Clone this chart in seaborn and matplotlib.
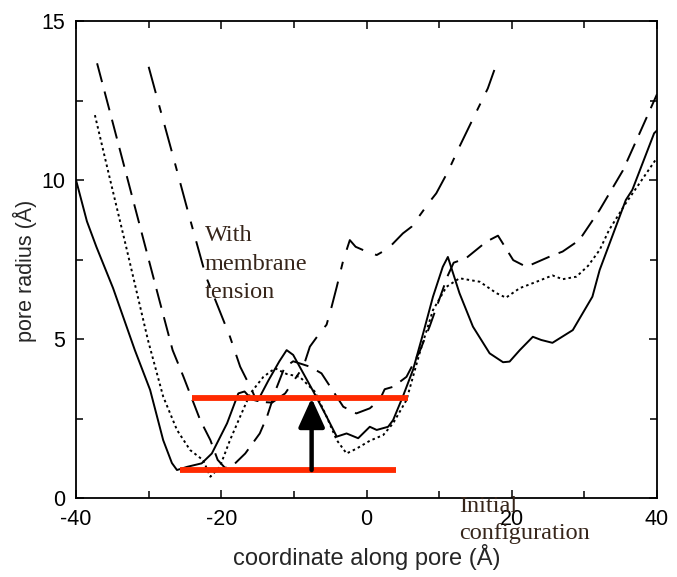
import matplotlib
matplotlib.use("Agg")
import matplotlib.pyplot as plt
import seaborn as sns
from matplotlib.ticker import MultipleLocator

# ---------------- data ----------------
solid_x = [-40, -38.5, -37.2, -34.9, -31.9, -29.8, -28.0, -26.8, -26.1, -24.7, -22.7, -21.3,
           -19.2, -17.65, -16.8, -15.8, -15.0, -13.5, -12.0, -11.0, -10.1, -8.7, -7.3, -5.5,
           -4.1, -2.75, -1.15, 0.45, 1.4, 2.97, 3.66, 5.0, 6.4, 7.8, 9.15, 10.5, 11.2, 12.8,
           14.65, 16.95, 18.8, 19.7, 21.1, 22.9, 24.05, 25.6, 27.7, 28.4, 31.1, 32.1, 35.7,
           36.6, 39.6, 40]
solid_y = [10.0, 8.7, 7.9, 6.6, 4.65, 3.4, 1.82, 1.1, 0.88, 0.98, 1.09, 1.4,
           2.35, 3.29, 3.35, 3.1, 3.05, 3.7, 4.3, 4.65, 4.5, 3.92, 3.34, 2.56,
           1.93, 2.03, 1.88, 2.24, 2.14, 2.24, 2.45, 3.19, 4.03, 5.18, 6.33, 7.27, 7.58, 6.44,
           5.39, 4.55, 4.27, 4.29, 4.65, 5.07, 4.97, 4.88, 5.18, 5.28, 6.33, 7.17, 9.37,
           9.69, 11.47, 11.56]

dotted_x = [-37.4, -35.4, -33.1, -30.1, -28.0, -26.1, -24.3, -22.5, -21.5, -20.2, -18.8,
            -17.4, -16.0, -14.2, -12.6, -11.0, -9.2, -7.1, -5.5, -4.1, -2.75, -1.4, 0.45,
            2.3, 3.66, 5.5, 7.3, 9.15, 11.0, 12.8, 15.6, 17.9, 19.2, 21.1, 23.4, 25.6, 27.0,
            28.9, 30.5, 32.1, 33.4, 35.7, 37.6, 40]
dotted_y = [12.04, 10.1, 7.9, 4.97, 3.19, 2.14, 1.51, 1.19, 0.67, 0.98, 1.82,
            2.56, 3.29, 3.81, 4.08, 3.9, 3.81, 3.34, 2.56, 1.82, 1.4, 1.55, 1.8,
            1.98, 2.35, 3.08, 4.55, 5.91, 6.64, 6.91, 6.80, 6.44, 6.3, 6.6, 6.8, 7.0, 6.88,
            6.96, 7.3, 7.8, 8.43, 9.27, 9.9, 10.7]

longdash_x = [-37.1, -35.4, -33.1, -30.8, -28.5, -26.7, -25.2, -22.9, -21.5, -20.5, -19.5,
              -18.5, -16.7, -14.7, -13.7, -12.5, -11.3, -10.1, -7.8, -6.2, -5.0, -3.2, -1.4,
              0.45, 1.8, 2.5, 3.7, 5.5, 7.3, 8.7, 10.1, 11.2, 12.0, 13.7, 16.5, 18.1, 20.2,
              22.0, 25.2, 27.0, 29.3, 32.1, 35.3, 37.6, 40]
longdash_y = [13.67, 12.2, 10.2, 8.2, 6.2, 4.65, 3.81, 2.45, 1.82, 1.2, 0.95,
              1.0, 1.4, 2.03, 2.56, 3.4, 4.1, 4.3, 4.13, 3.92, 3.5, 2.87, 2.66,
              2.82, 3.08, 3.42, 3.5, 3.81, 4.6, 5.4, 6.3, 7.0, 7.4, 7.54, 8.06, 8.25, 7.48,
              7.27, 7.59, 7.75, 8.11, 9.06, 10.3, 11.47, 12.7]

dashdot_x = [-30.0, -28.5, -26.7, -24.4, -22.1, -18.8, -17.4, -15.8, -15.1, -13.0, -11.2,
             -8.7, -7.8, -6.4, -5.5, -4.8, -4.1, -3.2, -2.3, -1.5, -0.5, 1.4, 3.0, 5.0,
             6.2, 8.7, 9.6, 11.2, 12.8, 14.9, 16.7, 17.6]
dashdot_y = [13.56, 12.3, 10.8, 8.85, 6.96, 5.07, 4.13, 3.40, 3.03, 3.0, 3.29,
             4.13, 4.76, 5.2, 5.45, 6.02, 6.64, 7.48, 8.11, 7.9, 7.8, 7.64, 7.85, 8.32,
             8.53, 9.32, 9.58, 10.26, 11.05, 12.04, 12.88, 13.46]

red_upper = (-24.0, 5.7, 3.15)   # x start, x end, level
red_lower = (-25.7, 4.0, 0.88)
arrow_x = -7.56
arrow_from, arrow_to = 0.88, 3.14

x_ticks = [-40, -20, 0, 20, 40]
y_ticks = [0, 5, 10, 15]

# ---------------- style ----------------
sns.set_style("ticks")
plt.rcParams["font.family"] = ["Liberation Sans", "DejaVu Sans"]
plt.rcParams["axes.unicode_minus"] = False

fig = plt.figure(figsize=(6.77, 5.77), dpi=100)
ax = fig.add_axes([0.1123, 0.1369, 0.8582, 0.8267])

lw = 1.4
sns.lineplot(x=solid_x, y=solid_y, ax=ax, color="black", lw=lw, sort=False,
             estimator=None, linestyle="-")
sns.lineplot(x=dotted_x, y=dotted_y, ax=ax, color="black", lw=lw, sort=False,
             estimator=None, linestyle=(0, (1.3, 1.6)))
sns.lineplot(x=longdash_x, y=longdash_y, ax=ax, color="black", lw=lw, sort=False,
             estimator=None, linestyle=(0, (10, 5)))
sns.lineplot(x=dashdot_x, y=dashdot_y, ax=ax, color="black", lw=lw, sort=False,
             estimator=None, linestyle=(0, (14, 6.5, 4, 6.5)))

# red reference lines
for x0, x1, yv in (red_upper, red_lower):
    ax.plot([x0, x1], [yv, yv], color="#ff2a00", lw=4.2, solid_capstyle="butt", zorder=4)

# black arrow
ax.annotate("", xy=(arrow_x, arrow_to), xytext=(arrow_x, arrow_from),
            arrowprops=dict(arrowstyle="-|>,head_width=0.5,head_length=1.1",
                            mutation_scale=16, lw=3.2, color="black",
                            shrinkA=0, shrinkB=0), zorder=5)

ax.set_xlim(-40, 40)
ax.set_ylim(0, 15)
ax.set_xticks(x_ticks)
ax.set_yticks(y_ticks)
ax.xaxis.set_minor_locator(MultipleLocator(10))
ax.yaxis.set_minor_locator(MultipleLocator(2.5))
ax.tick_params(which="both", direction="in", top=True, right=True, width=1.1,
               labelsize=15.5, pad=8, colors="black")
ax.tick_params(which="major", length=6)
ax.tick_params(which="minor", length=5)
for s in ax.spines.values():
    s.set_linewidth(1.3)
    s.set_color("black")

ax.set_xlabel("coordinate along pore (Å)", fontsize=17, labelpad=10)
ax.set_ylabel("pore radius (Å)", fontsize=15.5)
ax.yaxis.set_label_coords(-0.067, 0.476)

# annotations (serif, dark brown)
tc = "#36251a"
tf = dict(family=["Liberation Serif", "DejaVu Serif"], fontsize=17.5, color=tc,
          va="baseline", ha="left")
W, H = 677.0, 577.0
fig.text(205 / W, 1 - 240.7 / H, "With", **tf)
fig.text(205 / W, 1 - 270 / H, "membrane", **tf)
fig.text(205 / W, 1 - 298.3 / H, "tension", **tf)
fig.text(459 / W, 1 - 511.7 / H, "Initial", **tf)
fig.text(459 / W, 1 - 538.5 / H, "configuration", **tf)

fig.savefig("out.png", dpi=100, facecolor="white")
